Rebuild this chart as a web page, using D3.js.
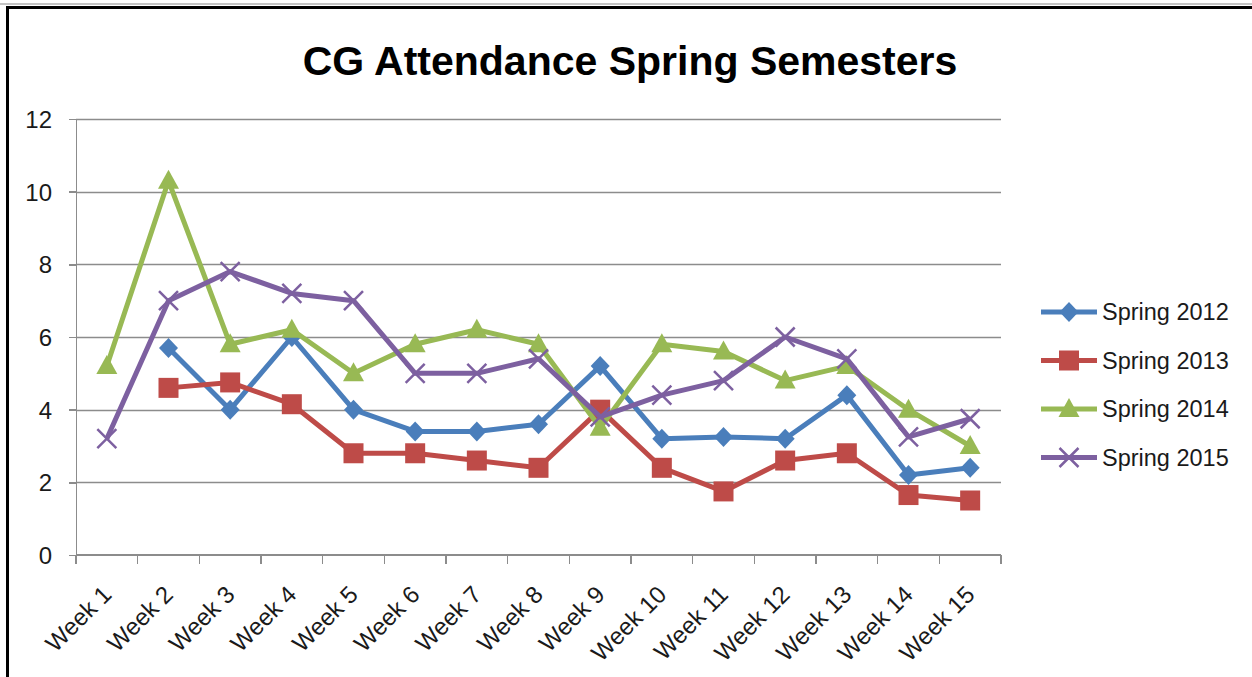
<!DOCTYPE html>
<html lang="en">
<head>
<meta charset="utf-8">
<script src="https://d3js.org/d3.v7.min.js"></script>
<style type="text/css">
body {
	margin: 0;
	background-color: #ffffff;
	font-family: "Liberation Sans", Arial, sans-serif;
}
.axis text {
	font-family: "Liberation Sans", Arial, sans-serif;
	font-size: 24px;
	fill: #1a1a1a;
}
.axis path, .axis line {
	stroke: #8c8c8c;
	stroke-width: 1.5px;
	shape-rendering: crispEdges;
}
</style>
</head>
<body>
<script type="text/javascript">

// chart data
var weeks = ["Week 1", "Week 2", "Week 3", "Week 4", "Week 5", "Week 6", "Week 7", "Week 8",
	"Week 9", "Week 10", "Week 11", "Week 12", "Week 13", "Week 14", "Week 15"];
var seriesNames = ["Spring 2012", "Spring 2013", "Spring 2014", "Spring 2015"];
var spring2012 = [null, 5.7, 4.0, 6.0, 4.0, 3.4, 3.4, 3.6, 5.2, 3.2, 3.25, 3.2, 4.4, 2.2, 2.4];
var spring2013 = [null, 4.6, 4.75, 4.15, 2.8, 2.8, 2.6, 2.4, 4.0, 2.4, 1.75, 2.6, 2.8, 1.65, 1.5];
var spring2014 = [5.2, 10.3, 5.8, 6.2, 5.0, 5.8, 6.2, 5.8, 3.5, 5.8, 5.6, 4.8, 5.2, 4.0, 3.0];
var spring2015 = [3.2, 7.0, 7.8, 7.2, 7.0, 5.0, 5.0, 5.4, 3.8, 4.4, 4.8, 6.0, 5.4, 3.25, 3.75];
var yTicks = [0, 2, 4, 6, 8, 10, 12];

var colors = ["#4a7ebb", "#be4b48", "#98b954", "#7d60a0"];
var shapes = ["diamond", "square", "triangle", "cross"];

var width = 1252, height = 677;
var margin = {left: 76, right: 251, top: 119, bottom: 122};

var svg = d3.select("body")
	.append("svg")
	.attr("width", width)
	.attr("height", height);

// frame around the chart
svg.append("line").attr("x1", 0).attr("x2", width).attr("y1", 4).attr("y2", 4)
	.style("stroke", "#b0b0b0").style("stroke-width", 1.5);
svg.append("line").attr("x1", 6).attr("x2", width).attr("y1", 7.5).attr("y2", 7.5)
	.style("stroke", "#000").style("stroke-width", 3);
svg.append("line").attr("x1", 7.5).attr("x2", 7.5).attr("y1", 6).attr("y2", height)
	.style("stroke", "#000").style("stroke-width", 3);

// title
svg.append("text")
	.attr("x", 630)
	.attr("y", 75)
	.attr("text-anchor", "middle")
	.style("font-size", "41px")
	.style("font-weight", "bold")
	.style("fill", "#000")
	.text("CG Attendance Spring Semesters");

var x = d3.scaleBand()
	.domain(weeks)
	.range([margin.left, width - margin.right]);

var y = d3.scaleLinear()
	.domain([0, 12])
	.range([height - margin.bottom, margin.top]);

// horizontal gridlines
svg.append("g")
	.selectAll("line")
	.data(yTicks.filter(function(d) { return d > 0; }))
	.enter()
	.append("line")
	.attr("x1", margin.left)
	.attr("x2", width - margin.right)
	.attr("y1", function(d) { return Math.round(y(d)) + 0.5; })
	.attr("y2", function(d) { return Math.round(y(d)) + 0.5; })
	.style("stroke", "#8c8c8c")
	.style("stroke-width", 1.5);

// y axis
var yAxis = svg.append("g")
	.attr("class", "axis")
	.attr("transform", "translate(" + margin.left + ",0)")
	.call(d3.axisLeft(y).tickValues(yTicks).tickSize(7).tickPadding(17));
yAxis.selectAll("text").attr("dy", "0.36em");

// x axis with ticks between categories
var xAxis = svg.append("g")
	.attr("class", "axis")
	.attr("transform", "translate(0," + y(0) + ")");
xAxis.append("line")
	.attr("x1", margin.left).attr("x2", width - margin.right)
	.attr("y1", 0).attr("y2", 0);
xAxis.selectAll(".tick")
	.data(d3.range(weeks.length + 1))
	.enter()
	.append("line")
	.attr("class", "tick")
	.attr("x1", function(i) { return margin.left + i * x.step(); })
	.attr("x2", function(i) { return margin.left + i * x.step(); })
	.attr("y1", 0).attr("y2", 9);
xAxis.selectAll(".lbl")
	.data(weeks)
	.enter()
	.append("text")
	.attr("class", "lbl")
	.attr("text-anchor", "end")
	.attr("transform", function(d) {
		return "translate(" + (x(d) + x.bandwidth() / 2 + 6) + ",41) rotate(-45)";
	})
	.text(function(d) { return d; });

// marker drawing
function marker(g, shape, color) {
	if (shape == "diamond") {
		g.append("path").attr("d", "M0,-10L9.5,0L0,10L-9.5,0Z").style("fill", color);
	} else if (shape == "square") {
		g.append("rect").attr("x", -10).attr("y", -10).attr("width", 20).attr("height", 20).style("fill", color);
	} else if (shape == "triangle") {
		g.append("path").attr("d", "M0,-11L10.5,8L-10.5,8Z").style("fill", color);
	} else {
		g.append("path").attr("d", "M-9.5,-9.5L9.5,9.5M-9.5,9.5L9.5,-9.5")
			.style("stroke", color).style("stroke-width", 2.5).style("fill", "none");
	}
}

var allSeries = [spring2012, spring2013, spring2014, spring2015];

var line = d3.line()
	.defined(function(d) { return d != null; })
	.x(function(d, i) { return x(weeks[i]) + x.bandwidth() / 2; })
	.y(function(d) { return y(d); });

allSeries.forEach(function(vals, s) {
	svg.append("path")
		.datum(vals)
		.attr("d", line)
		.style("fill", "none")
		.style("stroke", colors[s])
		.style("stroke-width", 5)
		.style("stroke-linejoin", "round");

	vals.forEach(function(v, i) {
		if (v == null) return;
		var g = svg.append("g")
			.attr("transform", "translate(" + (x(weeks[i]) + x.bandwidth() / 2) + "," + y(v) + ")");
		marker(g, shapes[s], colors[s]);
	});
});

// legend
var legend = svg.append("g").attr("transform", "translate(1041,312)");
seriesNames.forEach(function(name, s) {
	var row = legend.append("g").attr("transform", "translate(0," + (s * 48.5) + ")");
	row.append("line")
		.attr("x1", 0).attr("x2", 56)
		.style("stroke", colors[s])
		.style("stroke-width", 5);
	var g = row.append("g").attr("transform", "translate(28,0)");
	marker(g, shapes[s], colors[s]);
	row.append("text")
		.attr("x", 61)
		.attr("y", 0)
		.attr("dy", "0.36em")
		.style("font-size", "23.5px")
		.style("fill", "#1a1a1a")
		.text(name);
});

</script>
</body>
</html>
